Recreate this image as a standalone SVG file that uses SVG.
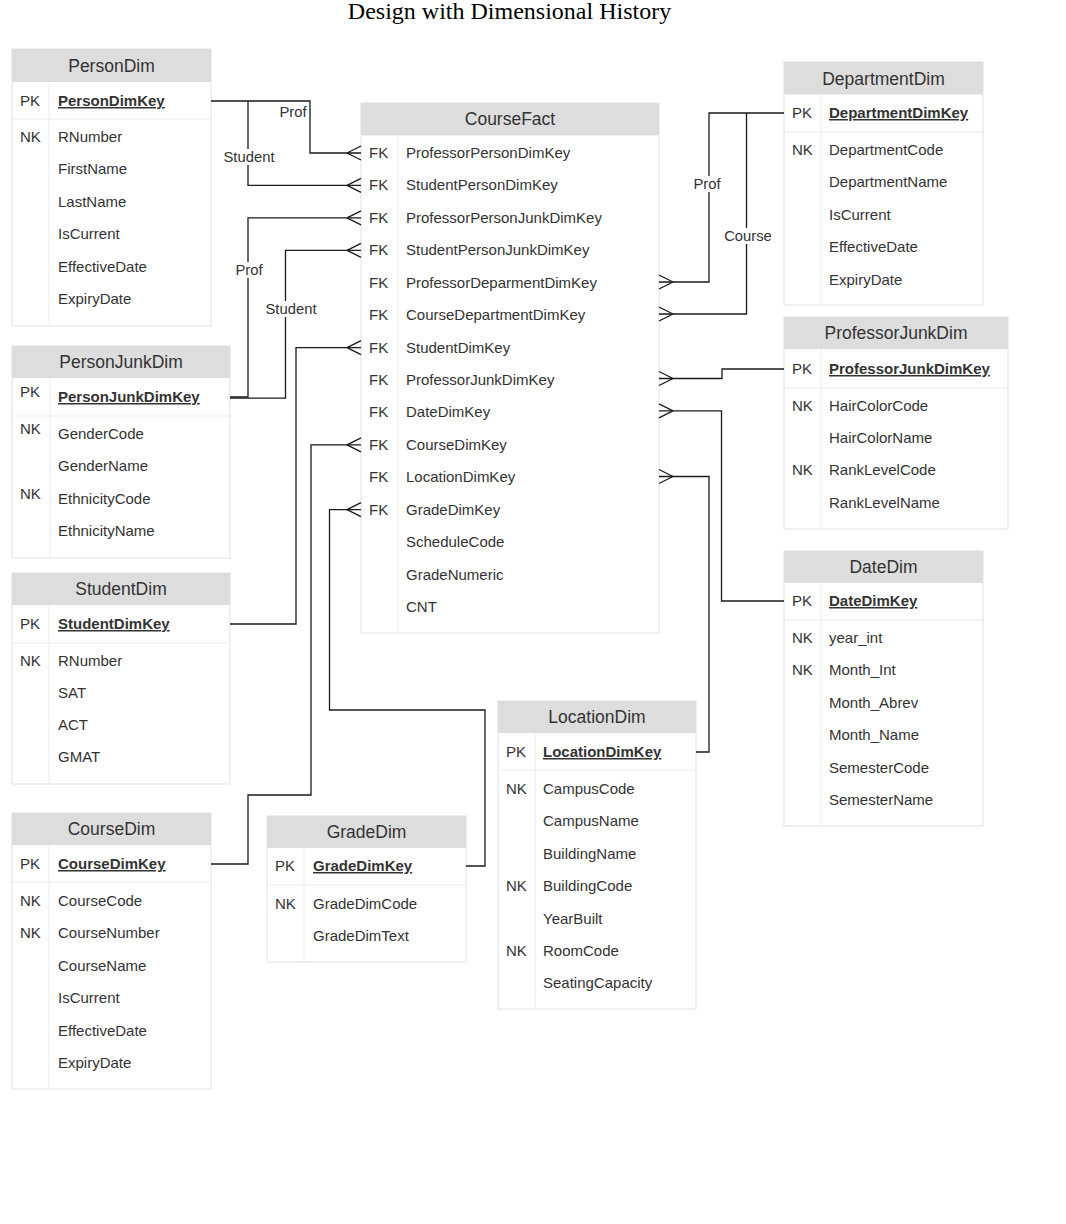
<svg xmlns="http://www.w3.org/2000/svg" width="1066" height="1224" viewBox="0 0 1066 1224">
<style>
.bg{fill:#ffffff}
.tb{fill:#ffffff;stroke:#e2e2e2;stroke-width:1}
.hd{fill:#dddddd}
.dv{stroke:#ececec;stroke-width:1}
.t{font-family:"Liberation Sans",Arial,Helvetica,sans-serif;font-size:15px;fill:#333333}
.h{font-family:"Liberation Sans",Arial,Helvetica,sans-serif;font-size:17.5px;fill:#333333;text-anchor:middle}
.pk{font-weight:bold;text-decoration:underline}
.c{fill:none;stroke:#1a1a1a;stroke-width:1.3}
.lb{fill:#ffffff}
.el{font-family:"Liberation Sans",Arial,Helvetica,sans-serif;font-size:14.8px;fill:#333333;text-anchor:middle}
.title{font-family:"Liberation Serif","Times New Roman",serif;font-size:24px;fill:#000000;text-anchor:middle}
</style>
<rect class="bg" x="0" y="0" width="1066" height="1224"/>
<text class="title" x="509.5" y="19">Design with Dimensional History</text>

<g id="PersonDim">
<rect class="tb" x="12" y="49" width="199" height="277"/>
<rect class="hd" x="12" y="49" width="199" height="33"/>
<line class="dv" x1="12" y1="119" x2="211" y2="119"/>
<line class="dv" x1="49" y1="82" x2="49" y2="326"/>
<text class="h" x="111.5" y="72">PersonDim</text>
<text class="t" x="20" y="106">PK</text><text class="t pk" x="58" y="106">PersonDimKey</text>
<text class="t" x="20" y="142">NK</text><text class="t" x="58" y="142">RNumber</text>
<text class="t" x="58" y="174.4">FirstName</text>
<text class="t" x="58" y="206.8">LastName</text>
<text class="t" x="58" y="239.2">IsCurrent</text>
<text class="t" x="58" y="271.6">EffectiveDate</text>
<text class="t" x="58" y="304">ExpiryDate</text>
</g>

<g id="PersonJunkDim">
<rect class="tb" x="12" y="346" width="218" height="212"/>
<rect class="hd" x="12" y="346" width="218" height="32"/>
<line class="dv" x1="12" y1="416" x2="230" y2="416"/>
<line class="dv" x1="50" y1="378" x2="50" y2="558"/>
<text class="h" x="121" y="368">PersonJunkDim</text>
<text class="t" x="20" y="397">PK</text><text class="t pk" x="58" y="402">PersonJunkDimKey</text>
<text class="t" x="20" y="434">NK</text><text class="t" x="58" y="439">GenderCode</text>
<text class="t" x="58" y="471.4">GenderName</text>
<text class="t" x="20" y="498.8">NK</text><text class="t" x="58" y="503.8">EthnicityCode</text>
<text class="t" x="58" y="536.2">EthnicityName</text>
</g>

<g id="StudentDim">
<rect class="tb" x="12" y="573" width="218" height="211"/>
<rect class="hd" x="12" y="573" width="218" height="32"/>
<line class="dv" x1="12" y1="643" x2="230" y2="643"/>
<line class="dv" x1="49" y1="605" x2="49" y2="784"/>
<text class="h" x="121" y="595">StudentDim</text>
<text class="t" x="20" y="629">PK</text><text class="t pk" x="58" y="629">StudentDimKey</text>
<text class="t" x="20" y="666">NK</text><text class="t" x="58" y="666">RNumber</text>
<text class="t" x="58" y="698">SAT</text>
<text class="t" x="58" y="730">ACT</text>
<text class="t" x="58" y="762">GMAT</text>
</g>

<g id="CourseDim">
<rect class="tb" x="12" y="813" width="199" height="276"/>
<rect class="hd" x="12" y="813" width="199" height="32"/>
<line class="dv" x1="12" y1="882" x2="211" y2="882"/>
<line class="dv" x1="49" y1="845" x2="49" y2="1089"/>
<text class="h" x="111.5" y="835">CourseDim</text>
<text class="t" x="20" y="869">PK</text><text class="t pk" x="58" y="869">CourseDimKey</text>
<text class="t" x="20" y="906">NK</text><text class="t" x="58" y="906">CourseCode</text>
<text class="t" x="20" y="938.4">NK</text><text class="t" x="58" y="938.4">CourseNumber</text>
<text class="t" x="58" y="970.8">CourseName</text>
<text class="t" x="58" y="1003.2">IsCurrent</text>
<text class="t" x="58" y="1035.6">EffectiveDate</text>
<text class="t" x="58" y="1068">ExpiryDate</text>
</g>

<g id="GradeDim">
<rect class="tb" x="267" y="816" width="199" height="146"/>
<rect class="hd" x="267" y="816" width="199" height="32"/>
<line class="dv" x1="267" y1="885" x2="466" y2="885"/>
<line class="dv" x1="304" y1="848" x2="304" y2="962"/>
<text class="h" x="366.5" y="838">GradeDim</text>
<text class="t" x="275" y="871">PK</text><text class="t pk" x="313" y="871">GradeDimKey</text>
<text class="t" x="275" y="908.5">NK</text><text class="t" x="313" y="908.5">GradeDimCode</text>
<text class="t" x="313" y="941">GradeDimText</text>
</g>

<g id="LocationDim">
<rect class="tb" x="498" y="701" width="198" height="308"/>
<rect class="hd" x="498" y="701" width="198" height="32"/>
<line class="dv" x1="498" y1="770" x2="696" y2="770"/>
<line class="dv" x1="535" y1="733" x2="535" y2="1009"/>
<text class="h" x="597" y="723">LocationDim</text>
<text class="t" x="506" y="757">PK</text><text class="t pk" x="543" y="757">LocationDimKey</text>
<text class="t" x="506" y="794">NK</text><text class="t" x="543" y="794">CampusCode</text>
<text class="t" x="543" y="826.4">CampusName</text>
<text class="t" x="543" y="858.8">BuildingName</text>
<text class="t" x="506" y="891.2">NK</text><text class="t" x="543" y="891.2">BuildingCode</text>
<text class="t" x="543" y="923.6">YearBuilt</text>
<text class="t" x="506" y="956">NK</text><text class="t" x="543" y="956">RoomCode</text>
<text class="t" x="543" y="988.4">SeatingCapacity</text>
</g>

<g id="DepartmentDim">
<rect class="tb" x="784" y="62" width="199" height="243"/>
<rect class="hd" x="784" y="62" width="199" height="32.5"/>
<line class="dv" x1="784" y1="132" x2="983" y2="132"/>
<line class="dv" x1="821" y1="94.5" x2="821" y2="305"/>
<text class="h" x="883.5" y="85">DepartmentDim</text>
<text class="t" x="792" y="118">PK</text><text class="t pk" x="829" y="118">DepartmentDimKey</text>
<text class="t" x="792" y="155">NK</text><text class="t" x="829" y="155">DepartmentCode</text>
<text class="t" x="829" y="187.4">DepartmentName</text>
<text class="t" x="829" y="219.8">IsCurrent</text>
<text class="t" x="829" y="252.2">EffectiveDate</text>
<text class="t" x="829" y="284.6">ExpiryDate</text>
</g>

<g id="ProfessorJunkDim">
<rect class="tb" x="784" y="317" width="224" height="212"/>
<rect class="hd" x="784" y="317" width="224" height="32"/>
<line class="dv" x1="784" y1="388" x2="1008" y2="388"/>
<line class="dv" x1="821" y1="349" x2="821" y2="529"/>
<text class="h" x="896" y="339">ProfessorJunkDim</text>
<text class="t" x="792" y="374">PK</text><text class="t pk" x="829" y="374">ProfessorJunkDimKey</text>
<text class="t" x="792" y="410.5">NK</text><text class="t" x="829" y="410.5">HairColorCode</text>
<text class="t" x="829" y="442.9">HairColorName</text>
<text class="t" x="792" y="475.3">NK</text><text class="t" x="829" y="475.3">RankLevelCode</text>
<text class="t" x="829" y="507.7">RankLevelName</text>
</g>

<g id="DateDim">
<rect class="tb" x="784" y="551" width="199" height="275"/>
<rect class="hd" x="784" y="551" width="199" height="32"/>
<line class="dv" x1="784" y1="620" x2="983" y2="620"/>
<line class="dv" x1="821" y1="583" x2="821" y2="826"/>
<text class="h" x="883.5" y="573">DateDim</text>
<text class="t" x="792" y="606">PK</text><text class="t pk" x="829" y="606">DateDimKey</text>
<text class="t" x="792" y="643">NK</text><text class="t" x="829" y="643">year_int</text>
<text class="t" x="792" y="675.4">NK</text><text class="t" x="829" y="675.4">Month_Int</text>
<text class="t" x="829" y="707.8">Month_Abrev</text>
<text class="t" x="829" y="740.2">Month_Name</text>
<text class="t" x="829" y="772.6">SemesterCode</text>
<text class="t" x="829" y="805">SemesterName</text>
</g>

<g id="CourseFact">
<rect class="tb" x="361" y="103" width="298" height="530"/>
<rect class="hd" x="361" y="103" width="298" height="32.5"/>
<line class="dv" x1="398" y1="135.5" x2="398" y2="633"/>
<text class="h" x="510" y="125">CourseFact</text>
<text class="t" x="369" y="158">FK</text><text class="t" x="406" y="158">ProfessorPersonDimKey</text>
<text class="t" x="369" y="190.4">FK</text><text class="t" x="406" y="190.4">StudentPersonDimKey</text>
<text class="t" x="369" y="222.9">FK</text><text class="t" x="406" y="222.9">ProfessorPersonJunkDimKey</text>
<text class="t" x="369" y="255.3">FK</text><text class="t" x="406" y="255.3">StudentPersonJunkDimKey</text>
<text class="t" x="369" y="287.7">FK</text><text class="t" x="406" y="287.7">ProfessorDeparmentDimKey</text>
<text class="t" x="369" y="320.2">FK</text><text class="t" x="406" y="320.2">CourseDepartmentDimKey</text>
<text class="t" x="369" y="352.6">FK</text><text class="t" x="406" y="352.6">StudentDimKey</text>
<text class="t" x="369" y="385">FK</text><text class="t" x="406" y="385">ProfessorJunkDimKey</text>
<text class="t" x="369" y="417.4">FK</text><text class="t" x="406" y="417.4">DateDimKey</text>
<text class="t" x="369" y="449.9">FK</text><text class="t" x="406" y="449.9">CourseDimKey</text>
<text class="t" x="369" y="482.3">FK</text><text class="t" x="406" y="482.3">LocationDimKey</text>
<text class="t" x="369" y="514.7">FK</text><text class="t" x="406" y="514.7">GradeDimKey</text>
<text class="t" x="406" y="547.2">ScheduleCode</text>
<text class="t" x="406" y="579.6">GradeNumeric</text>
<text class="t" x="406" y="612">CNT</text>
</g>

<g id="connectors">
<path class="c" d="M211,101 H310 V153 H361"/>
<path class="c" d="M347,153 L361,146 M347,153 L361,160"/>
<path class="c" d="M248,101 V185.4 H361"/>
<path class="c" d="M347,185.4 L361,178.4 M347,185.4 L361,192.4"/>
<path class="c" d="M230,397 H248 V217.9 H361"/>
<path class="c" d="M347,217.9 L361,210.9 M347,217.9 L361,224.9"/>
<path class="c" d="M230,398.2 H285.5 V250.3 H361"/>
<path class="c" d="M347,250.3 L361,243.3 M347,250.3 L361,257.3"/>
<path class="c" d="M230,624 H296 V347.6 H361"/>
<path class="c" d="M347,347.6 L361,340.6 M347,347.6 L361,354.6"/>
<path class="c" d="M211,864 H248 V795 H311 V444.9 H361"/>
<path class="c" d="M347,444.9 L361,437.9 M347,444.9 L361,451.9"/>
<path class="c" d="M466,866 H485 V710 H329.5 V509.7 H361"/>
<path class="c" d="M347,509.7 L361,502.7 M347,509.7 L361,516.7"/>
<path class="c" d="M784,113 H709 V282 H659"/>
<path class="c" d="M673,282 L659,275 M673,282 L659,289"/>
<path class="c" d="M746.5,113 V314 H659"/>
<path class="c" d="M673,314 L659,307 M673,314 L659,321"/>
<path class="c" d="M784,369 H722 V378.5 H659"/>
<path class="c" d="M673,378.5 L659,371.5 M673,378.5 L659,385.5"/>
<path class="c" d="M784,601 H721.5 V410.8 H659"/>
<path class="c" d="M673,410.8 L659,403.8 M673,410.8 L659,417.8"/>
<path class="c" d="M696,752 H709 V476.5 H659"/>
<path class="c" d="M673,476.5 L659,469.5 M673,476.5 L659,483.5"/>
<text class="el" x="293" y="117">Prof</text>
<rect class="lb" x="221" y="149" width="56" height="16"/>
<text class="el" x="249" y="162">Student</text>
<rect class="lb" x="233" y="262" width="32" height="16"/>
<text class="el" x="249" y="275">Prof</text>
<rect class="lb" x="263" y="301" width="56" height="16"/>
<text class="el" x="291" y="314">Student</text>
<rect class="lb" x="691" y="176" width="32" height="16"/>
<text class="el" x="707" y="189">Prof</text>
<rect class="lb" x="722" y="228" width="52" height="16"/>
<text class="el" x="748" y="241">Course</text>
</g>
</svg>
